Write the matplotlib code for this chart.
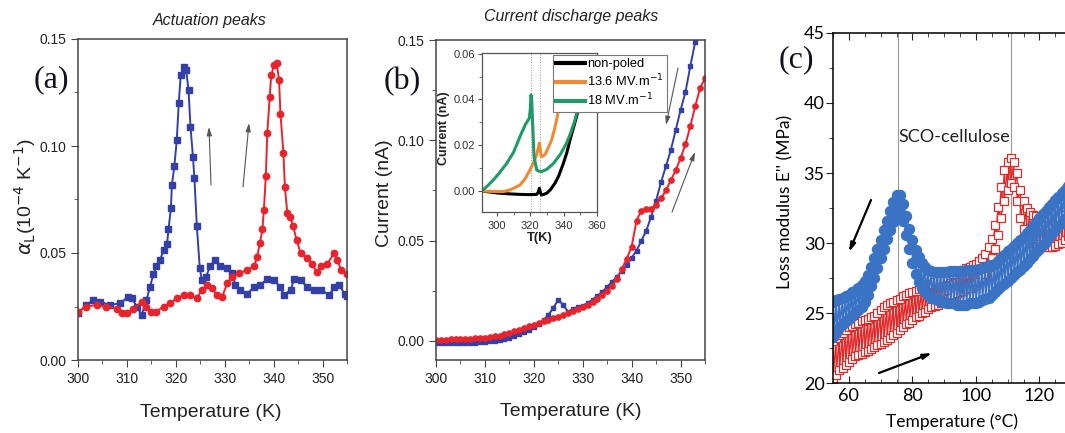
import numpy as np
import matplotlib
matplotlib.use("Agg")
import matplotlib.pyplot as plt
from matplotlib.ticker import MultipleLocator, FixedLocator

# ---- panel (a): actuation peaks
a_blue_T = [300, 301.7, 303.1, 304.5, 306.5, 308.6, 310.3, 311, 312, 313,
            314, 314.7, 315.4, 316, 316.8, 317.5, 318.2, 318.5, 319, 319.2,
            319.7, 320.2, 320.6, 321, 321.6, 322.1, 322.6, 323, 323.5, 323.8,
            324.3, 324.9, 325.3, 326.2, 327, 328, 329.1, 330.5, 331.5, 332.2,
            333.2, 334.6, 336, 337.3, 338.7, 340, 341.4, 342.1, 343.5, 344.2,
            345.5, 346.9, 348.3, 349.7, 351.4, 352.4, 353.4, 354.5, 355]
a_blue = [0.0218, 0.0257, 0.028, 0.0273, 0.0257, 0.0265, 0.0296, 0.029, 0.025, 0.021,
          0.028, 0.034, 0.040, 0.0437, 0.0468, 0.0515, 0.054, 0.061, 0.071, 0.082,
          0.0905, 0.103, 0.120, 0.133, 0.137, 0.1357, 0.126, 0.109, 0.095, 0.085,
          0.0624, 0.043, 0.0374, 0.039, 0.0437, 0.0468, 0.0437, 0.043, 0.0405, 0.035,
          0.0327, 0.031, 0.034, 0.035, 0.038, 0.0374, 0.034, 0.0304, 0.0327, 0.038,
          0.0374, 0.034, 0.0327, 0.0327, 0.0304, 0.034, 0.035, 0.031, 0.030]
a_red_T = [300, 301.7, 303.8, 305.8, 307.9, 308.9, 310, 311.3, 313, 314,
           315, 316, 317.5, 318.8, 320.2, 321.6, 323, 324.3, 325.3, 326.4,
           327.4, 328.4, 329.5, 330.5, 331.5, 332.9, 334.6, 336, 336.6, 337.2,
           337.7, 338, 338.4, 338.7, 339.2, 339.5, 340.1, 340.6, 341.1, 341.4,
           342, 342.3, 342.8, 343.4, 344, 344.7, 345.5, 346.9, 347.9, 348.8,
           349.7, 351, 352.4, 353, 353.8, 355.1]
a_red = [0.0226, 0.025, 0.0257, 0.025, 0.024, 0.0218, 0.0218, 0.024, 0.027, 0.025,
         0.0226, 0.0226, 0.025, 0.0265, 0.0288, 0.0304, 0.0304, 0.0288, 0.0327, 0.035,
         0.0335, 0.0304, 0.0296, 0.0359, 0.039, 0.0405, 0.042, 0.0437, 0.0483, 0.0546,
         0.061, 0.070, 0.0858, 0.106, 0.123, 0.133, 0.138, 0.139, 0.131, 0.115,
         0.0967, 0.081, 0.0686, 0.067, 0.0624, 0.056, 0.050, 0.0475, 0.045, 0.041,
         0.0437, 0.045, 0.050, 0.0468, 0.042, 0.040]

# ---- panel (b): current discharge peaks
b_blue_T = list(range(300, 354))
b_blue = [-0.0012, -0.0012, -0.0012, -0.0011, -0.0011, -0.001, -0.001, -0.0009, -0.0008, -0.0006,
          -0.0004, -0.0002, 0.0001, 0.0005, 0.001, 0.0016, 0.0025, 0.0034, 0.0045, 0.0057,
          0.007, 0.0085, 0.0105, 0.013, 0.0165, 0.0205, 0.018, 0.0145, 0.016, 0.0168,
          0.0175, 0.019, 0.0205, 0.0225, 0.0245, 0.027, 0.0295, 0.032, 0.035, 0.038,
          0.0415, 0.045, 0.050, 0.055, 0.062, 0.070, 0.079, 0.087, 0.095, 0.105,
          0.115, 0.124, 0.137, 0.149]
b_red_T = list(range(300, 356))
b_red = [0.0006, 0.0006, 0.0007, 0.0008, 0.0009, 0.001, 0.0011, 0.0012, 0.0013, 0.0015,
         0.0017, 0.002, 0.0023, 0.0027, 0.0033, 0.004, 0.0048, 0.0056, 0.0065, 0.0073,
         0.0081, 0.0089, 0.0097, 0.0105, 0.0113, 0.012, 0.0128, 0.0137, 0.0147, 0.0157,
         0.0168, 0.018, 0.0193, 0.021, 0.023, 0.025, 0.0275, 0.031, 0.036, 0.041,
         0.047, 0.060, 0.065, 0.066, 0.066, 0.068, 0.071, 0.075, 0.080, 0.085,
         0.091, 0.098, 0.107, 0.117, 0.126, 0.131]

# inset
ins_black_T = [290.8, 296, 301.8, 308, 313.8, 319, 323.8, 324.8, 325.4, 326, 326.6, 328,
               329.8, 332, 334.8, 337, 339.8, 342, 343.8, 346, 347.8, 349.8, 352]
ins_black = [0, -0.0005, -0.001, -0.0013, -0.0015, -0.0016, -0.0015, -0.0005, 0.0012, -0.0005,
             -0.0018, -0.0015, -0.001, 0.0005, 0.0034, 0.0065, 0.012, 0.017, 0.0223, 0.028,
             0.0326, 0.040, 0.05]
ins_orange_T = [290.8, 297, 303.8, 308, 313.8, 317, 320.8, 323.8, 324.8, 325.4, 326, 326.6,
                328.8, 330.8, 332.8, 334.5, 336.2, 338.2, 340]
ins_orange = [0, -0.0002, -0.0003, 0.0005, 0.0026, 0.0055, 0.0106, 0.0158, 0.019, 0.0209,
              0.018, 0.015, 0.0158, 0.019, 0.0223, 0.027, 0.0326, 0.0413, 0.05]
ins_green_T = [290.8, 294, 297.8, 301, 305.8, 310, 313.8, 317, 319.4, 320.0, 320.4, 320.8,
               321.2, 322.2, 323.8, 325, 326.8, 330, 333.8, 338, 341.8, 344, 346.8, 349.8, 352]
ins_green = [0, 0.002, 0.0048, 0.0075, 0.012, 0.017, 0.0238, 0.029, 0.0318, 0.036, 0.042, 0.040,
             0.0326, 0.015, 0.0092, 0.0087, 0.0085, 0.0095, 0.012, 0.016, 0.021, 0.025, 0.031,
             0.0406, 0.048]
ins_labels = ["non-poled", "13.6 MV.m$^{-1}$", "18 MV.m$^{-1}$"]

# ---- panel (c): loss modulus, upper / lower edge of the noisy band at each degree
c_T = list(range(55, 131))
c_blue_hi = [25.8, 25.9, 26.0, 26.1, 26.2, 26.3, 26.5, 26.6, 26.8, 27.0,
             27.3, 27.7, 28.3, 28.9, 29.6, 30.2, 30.9, 31.6, 32.3, 32.9,
             33.4, 33.4, 32.8, 31.9, 31.0, 30.2, 29.5, 29.0, 28.6, 28.3,
             28.1, 28.0, 27.9, 27.9, 27.9, 27.9, 27.9, 28.0, 28.0, 28.0,
             28.0, 28.0, 28.05, 28.05, 28.1, 28.1, 28.15, 28.2, 28.3, 28.4,
             28.45, 28.5, 28.7, 28.9, 29.15, 29.4, 29.6, 29.8, 30.0, 30.2,
             30.45, 30.7, 30.95, 31.2, 31.5, 31.8, 32.05, 32.3, 32.55, 32.8,
             33.05, 33.3, 33.55, 33.8, 34.05, 34.3]
c_blue_lo = [23.3, 23.6, 23.9, 24.2, 24.4, 24.6, 24.8, 25.0, 25.2, 25.4,
             25.8, 26.3, 26.9, 27.5, 28.2, 28.9, 29.6, 30.3, 30.9, 31.5,
             32.0, 32.2, 31.6, 30.6, 29.6, 28.6, 27.8, 27.2, 26.8, 26.5,
             26.3, 26.1, 26.0, 25.9, 25.8, 25.8, 25.7, 25.7, 25.7, 25.6,
             25.6, 25.6, 25.6, 25.7, 25.7, 25.7, 25.8, 25.9, 26.0, 26.1,
             26.3, 26.5, 26.7, 26.9, 27.1, 27.3, 27.5, 27.7, 27.9, 28.1,
             28.35, 28.6, 28.85, 29.1, 29.35, 29.6, 29.85, 30.1, 30.4, 30.7,
             30.95, 31.2, 31.45, 31.7, 31.95, 32.2]
c_red_hi = [23.0, 23.2, 23.4, 23.6, 23.8, 24.0, 24.1, 24.2, 24.3, 24.4,
            24.5, 24.6, 24.7, 24.8, 25.0, 25.2, 25.4, 25.6, 25.7, 25.8,
            25.9, 26.0, 26.2, 26.3, 26.4, 26.5, 26.6, 26.7, 26.8, 26.9,
            27.0, 27.1, 27.2, 27.3, 27.4, 27.5, 27.6, 27.7, 27.8, 27.9,
            28.0, 28.1, 28.2, 28.3, 28.4, 28.5, 28.7, 28.9, 29.2, 29.7,
            30.3, 31.3, 32.6, 34.0, 35.2, 35.8, 36.1, 35.8, 35.0, 33.8,
            33.0, 32.5, 32.2, 32.0, 31.9, 31.6, 31.3, 31.2, 31.2, 31.3,
            31.5, 31.8, 32.2, 32.6, 33.0, 33.4]
c_red_lo = [20.3, 20.6, 20.9, 21.1, 21.3, 21.5, 21.7, 21.9, 22.0, 22.1,
            22.2, 22.3, 22.4, 22.6, 22.7, 22.8, 22.9, 23.1, 23.2, 23.4,
            23.6, 23.8, 24.0, 24.2, 24.3, 24.5, 24.7, 24.8, 25.0, 25.1,
            25.3, 25.4, 25.5, 25.6, 25.7, 25.8, 26.0, 26.1, 26.3, 26.4,
            26.5, 26.6, 26.7, 26.8, 26.9, 27.0, 27.2, 27.5, 27.8, 28.3,
            28.9, 29.6, 30.6, 31.8, 33.0, 33.8, 34.3, 34.0, 33.0, 31.8,
            31.0, 30.5, 30.2, 30.0, 29.9, 29.8, 29.8, 29.7, 29.7, 29.7,
            29.8, 29.9, 30.0, 30.2, 30.5, 30.8]

BLUE = "#3240a8"
RED = "#e8232b"

plt.rcParams["font.family"] = ["Liberation Sans", "DejaVu Sans"]
plt.rcParams["axes.linewidth"] = 1.1

fig = plt.figure(figsize=(10.65, 4.33), dpi=100)
W, H = 1065.0, 433.0


def box(l, t, r, b):
    return [l / W, 1 - b / H, (r - l) / W, (b - t) / H]


def arrow(ax, p0, p1, col="#555555", lw=0.8):
    ax.annotate("", xy=p1, xytext=p0, xycoords="figure pixels",
                arrowprops=dict(arrowstyle="-|>,head_length=0.5,head_width=0.15",
                                color=col, lw=lw, shrinkA=0, shrinkB=0))


def style_ab(ax):
    for s in ax.spines.values():
        s.set_color("#444444")
    ax.tick_params(which="both", direction="out", colors="#444444",
                   labelcolor="#222222", labelsize=10)
    ax.tick_params(which="major", length=5)
    ax.tick_params(which="minor", length=3)


# (a)
ax1 = fig.add_axes(box(78, 39, 347, 360))
ax1.plot(a_blue_T, a_blue, "-s", color=BLUE, ms=4.3, lw=1.4)
ax1.plot(a_red_T, a_red, "-o", color=RED, ms=4.6, lw=1.4)
ax1.set_xlim(300, 355)
ax1.set_ylim(0, 0.15)
ax1.xaxis.set_major_locator(MultipleLocator(10))
ax1.xaxis.set_minor_locator(MultipleLocator(5))
ax1.yaxis.set_major_locator(MultipleLocator(0.05))
ax1.yaxis.set_minor_locator(MultipleLocator(0.025))
ax1.yaxis.set_major_formatter(matplotlib.ticker.FormatStrFormatter("%.2f"))
style_ab(ax1)
ax1.set_xlabel("Temperature (K)", fontsize=14, color="#222222", va="center")
ax1.xaxis.set_label_coords(0.495, -0.165)
ax1.set_ylabel(r"$\alpha_{\rm L}$(10$^{-4}$ K$^{-1}$)", fontsize=14, color="#222222", va="center")
ax1.yaxis.set_label_coords(-0.197, 0.51)
fig.text(210 / W, 1 - 20 / H, "Actuation peaks", style="italic", fontsize=11.5,
         ha="center", va="center", color="#222222")
fig.text(51 / W, 1 - 80 / H, "(a)", family="Liberation Serif", fontsize=23,
         ha="center", va="center", color="#111122")
arrow(ax1, (211, H - 185), (209, H - 127))
arrow(ax1, (243, H - 187), (249, H - 123))

# (b)
ax2 = fig.add_axes(box(436, 40, 705, 360))
ax2.plot(b_blue_T, b_blue, "-s", color=BLUE, ms=3.4, lw=1.4)
ax2.plot(b_red_T, b_red, "-o", color=RED, ms=3.8, lw=1.4)
ax2.set_xlim(300, 355)
ax2.set_ylim(-0.0095, 0.15)
ax2.xaxis.set_major_locator(MultipleLocator(10))
ax2.xaxis.set_minor_locator(MultipleLocator(5))
ax2.yaxis.set_major_locator(MultipleLocator(0.05))
ax2.yaxis.set_minor_locator(MultipleLocator(0.025))
ax2.yaxis.set_major_formatter(matplotlib.ticker.FormatStrFormatter("%.2f"))
style_ab(ax2)
ax2.set_xlabel("Temperature (K)", fontsize=14, color="#222222", va="center")
ax2.xaxis.set_label_coords(0.5, -0.1625)
ax2.set_ylabel("Current (nA)", fontsize=14, color="#222222", va="center")
ax2.yaxis.set_label_coords(-0.19, 0.52)
fig.text(571 / W, 1 - 17 / H, "Current discharge peaks", style="italic", fontsize=11.5,
         ha="center", va="center", color="#222222")
fig.text(402 / W, 1 - 82 / H, "(b)", family="Liberation Serif", fontsize=23,
         ha="center", va="center", color="#111122")
arrow(ax2, (678, H - 68), (666, H - 125))
arrow(ax2, (672, H - 212), (695, H - 152))

# inset of (b)
axi = fig.add_axes(box(482, 53, 597, 212))
axi.axvline(320.5, color="#999999", lw=0.7, ls=":")
axi.axvline(325.8, color="#999999", lw=0.7, ls=":")
axi.plot(ins_black_T, ins_black, color="black", lw=2.2, label=ins_labels[0])
axi.plot(ins_orange_T, ins_orange, color="#f08a32", lw=2.2, label=ins_labels[1])
axi.plot(ins_green_T, ins_green, color="#1f9a68", lw=2.2, label=ins_labels[2])
axi.set_xlim(291, 360)
axi.set_ylim(-0.0092, 0.0603)
axi.xaxis.set_major_locator(MultipleLocator(20))
axi.xaxis.set_minor_locator(MultipleLocator(10))
axi.yaxis.set_major_locator(MultipleLocator(0.02))
axi.yaxis.set_minor_locator(MultipleLocator(0.01))
axi.yaxis.set_major_formatter(matplotlib.ticker.FormatStrFormatter("%.2f"))
for s in axi.spines.values():
    s.set_color("#555555")
    s.set_linewidth(0.9)
axi.tick_params(which="both", direction="out", colors="#555555",
                labelcolor="#333333", labelsize=8)
axi.tick_params(axis="y", pad=2)
axi.tick_params(which="major", length=3)
axi.tick_params(which="minor", length=2)
axi.set_xlabel("T(K)", fontsize=9.4, fontweight="bold", color="#222222", va="center")
axi.xaxis.set_label_coords(0.5, -0.164)
axi.set_ylabel("Current (nA)", fontsize=9, fontweight="bold", color="#222222", va="center")
axi.yaxis.set_label_coords(-0.33, 0.53)
leg = axi.legend(loc="upper left", bbox_to_anchor=(553 / W, 1 - 55 / H),
                 bbox_transform=fig.transFigure, fontsize=9.3, handlelength=2.2,
                 handletextpad=0.2, borderaxespad=0, borderpad=0.25, labelspacing=0.2,
                 fancybox=False, framealpha=1)
leg.get_frame().set_edgecolor("#777777")
leg.get_frame().set_linewidth(0.8)
for ln in leg.get_lines():
    ln.set_linewidth(3)

# (c)
C_BLUE = "#3a72c4"
C_RED = "#e02a2a"
ax3 = fig.add_axes(box(833, 33, 833 + 85 * 3.175, 383))
ax3.axvline(75.5, color="#999999", lw=0.8)
ax3.axvline(111, color="#999999", lw=0.8)
cx = np.repeat(c_T, 2)
red_y = np.column_stack([c_red_hi, c_red_lo]).ravel()
blue_y = np.column_stack([c_blue_hi, c_blue_lo]).ravel()
ax3.plot(cx, red_y, "-s", color=C_RED, lw=1.0, ms=5.8, mfc="white", mec=C_RED, mew=0.9)
ax3.plot(cx, blue_y, "-o", color=C_BLUE, lw=1.2, ms=7.2, mec=C_BLUE)
ax3.set_xlim(55, 140)
ax3.set_ylim(20, 45)
ax3.xaxis.set_major_locator(FixedLocator([60, 80, 100, 120]))
ax3.xaxis.set_minor_locator(FixedLocator(list(range(55, 131, 5))))
ax3.yaxis.set_major_locator(MultipleLocator(5))
ax3.yaxis.set_minor_locator(MultipleLocator(2.5))
ax3.tick_params(which="both", top=True, direction="out", labelsize=13, color="#222222")
ax3.tick_params(axis="x", which="both", direction="in")
ax3.tick_params(which="major", length=5)
ax3.tick_params(which="minor", length=3)
for lab in ax3.get_xticklabels() + ax3.get_yticklabels():
    lab.set_family("Lato")
ax3.tick_params(axis="y", pad=1)
ax3.set_xlabel("Temperature (\u00b0C)", fontsize=12.5, family="Lato", va="center")
ax3.xaxis.set_label_coords(0.44, -0.111)
ax3.set_ylabel("Loss modulus E'' (MPa)", fontsize=12.5, family="Lato", va="center")
ax3.yaxis.set_label_coords(-0.178, 0.517)
ax3.text(954, H - 137, "SCO-cellulose", transform=None, fontsize=13, family="Lato",
         ha="center", va="center", color="#222222")
fig.text(796 / W, 1 - 60 / H, "(c)", family="Liberation Serif", fontsize=23,
         ha="center", va="center", color="#111122")
arrow(ax3, (871, H - 200), (849, H - 252), col="black", lw=1.6)
arrow(ax3, (879, H - 373), (932, H - 353), col="black", lw=1.6)

fig.savefig("out.png", dpi=100)
